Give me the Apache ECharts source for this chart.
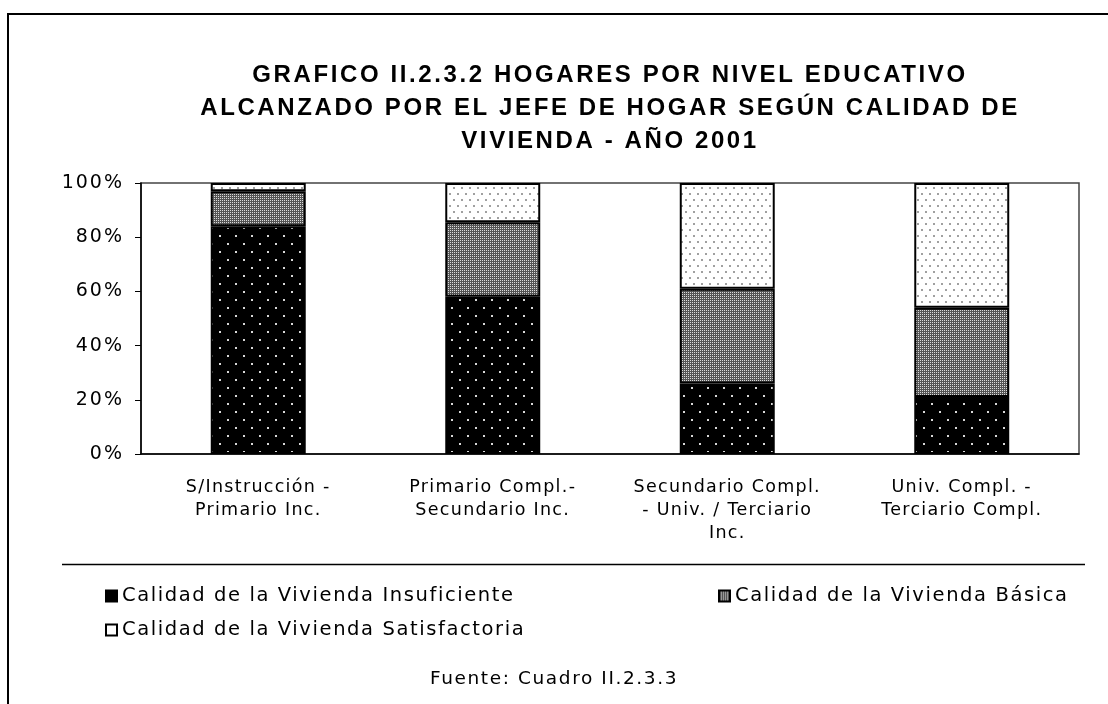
<!DOCTYPE html>
<html><head><meta charset="utf-8">
<script src="https://cdn.jsdelivr.net/npm/echarts@6/dist/echarts.min.js"></script>
<style>html,body{margin:0;padding:0;background:#fff}#c{width:1108px;height:704px}</style>
</head><body><div id="c"></div>
<script>
const categories = ['S/Instrucción -\nPrimario Inc.', 'Primario Compl.-\nSecundario Inc.', 'Secundario Compl.\n- Univ. / Terciario\nInc.', 'Univ. Compl. -\nTerciario Compl.'];
const seriesNames = ['Calidad de la Vivienda Insuficiente', 'Calidad de la Vivienda Básica', 'Calidad de la Vivienda Satisfactoria'];
const insuficiente = [84, 58, 26, 21];
const basica = [13, 27.5, 35, 33];
const satisfactoria = [3, 14.5, 39, 46];
const yTicks = [0, 20, 40, 60, 80, 100];

// wide letter spacing of the original rendering (keyed by font size)
const SPACING = {'24': 2.6, '19': 2, '17.5': 1.3, '19.5': 1.6, '18.5': 1.6};
(function () {
  const P = CanvasRenderingContext2D.prototype;
  const orig = P.fillText;
  P.fillText = function (t, x, y, mw) {
    const m = /(\d+(?:\.\d+)?)px/.exec(this.font || '');
    const has = 'letterSpacing' in this;
    const prev = has ? this.letterSpacing : null;
    if (has && m && SPACING[m[1]] != null) this.letterSpacing = SPACING[m[1]] + 'px';
    const r = mw === undefined ? orig.call(this, t, x, y) : orig.call(this, t, x, y, mw);
    if (has) this.letterSpacing = prev;
    return r;
  };
})();

function pattern(w, h, bg, dots) {
  const c = document.createElement('canvas');
  c.width = w; c.height = h;
  const g = c.getContext('2d');
  g.fillStyle = bg; g.fillRect(0, 0, w, h);
  dots.forEach(d => { g.fillStyle = d[4]; g.fillRect(d[0], d[1], d[2], d[3]); });
  return c;
}
const pBlack = pattern(16, 16, '#000', [[3, 3, 2, 2, '#d8d8d8'], [11, 11, 2, 2, '#d8d8d8']]);
const pGray = pattern(2, 2, '#555', [[0, 0, 1, 1, '#dcdcdc']]);
const pWhite = pattern(8, 12, '#fff', [[1, 1, 2, 2, '#a0a0a0'], [5, 7, 2, 2, '#a0a0a0']]);
const fills = [pBlack, pGray, pWhite];
const values = [insuficiente, basica, satisfactoria];

const chart = echarts.init(document.getElementById('c'), null, {renderer: 'canvas'});
const font = 'DejaVu Sans';
chart.setOption({
  animation: false,
  backgroundColor: '#fff',
  title: [{
    text: 'GRAFICO II.2.3.2 HOGARES POR NIVEL EDUCATIVO\nALCANZADO POR EL JEFE DE HOGAR SEGÚN CALIDAD DE\nVIVIENDA - AÑO 2001',
    left: 605, top: 54, textAlign: 'center',
    textStyle: {fontFamily: 'Liberation Sans', fontWeight: 'bold', fontSize: 24, lineHeight: 33, color: '#000'}
  }, {
    text: 'Fuente: Cuadro II.2.3.3',
    left: 549, top: 665, textAlign: 'center',
    textStyle: {fontFamily: font, fontWeight: 'normal', fontSize: 18.5, color: '#000'}
  }],
  grid: {left: 141, right: 29, top: 183, bottom: 250, show: true, borderColor: '#444', borderWidth: 1.5, backgroundColor: '#fff'},
  xAxis: {
    type: 'category', data: categories,
    axisLine: {lineStyle: {color: '#000', width: 1.5}},
    axisTick: {show: false},
    axisLabel: {fontFamily: font, fontSize: 17.5, lineHeight: 23, color: '#000', margin: 22, interval: 0, align: 'center'}
  },
  yAxis: {
    type: 'value', min: 0, max: 100, interval: 20,
    axisLine: {show: true, lineStyle: {color: '#000', width: 1.5}},
    axisTick: {show: true, length: 6, lineStyle: {color: '#000'}},
    splitLine: {show: false},
    axisLabel: {fontFamily: font, fontSize: 19, color: '#000', margin: 17,
      formatter: v => yTicks.indexOf(v) >= 0 ? v + '%' : ''}
  },
  legend: [
    {data: [{name: seriesNames[0], itemStyle: {color: '#000'}}], left: 100, top: 581},
    {data: [{name: seriesNames[1], itemStyle: {color: {image: pGray, repeat: 'repeat'}}}], left: 713, top: 581},
    {data: [{name: seriesNames[2], itemStyle: {color: '#fff'}}], left: 100, top: 615}
  ].map(l => Object.assign(l, {
    orient: 'horizontal', icon: 'rect', itemWidth: 11, itemHeight: 11, itemGap: 6,
    textStyle: {fontFamily: font, fontSize: 19.5, color: '#000', padding: [0, 0, 0, 0]}
  })),
  graphic: [
    {type: 'rect', shape: {x: 8, y: 14, width: 1200, height: 800}, style: {fill: 'none', stroke: '#000', lineWidth: 2}, silent: true, z: 100},
    {type: 'line', shape: {x1: 62, y1: 564.5, x2: 1085, y2: 564.5}, style: {stroke: '#000', lineWidth: 1.5}, silent: true}
  ],
  series: values.map((vals, i) => ({
    name: seriesNames[i], type: 'bar', stack: 'total', data: vals,
    barWidth: '40.5%',
    itemStyle: {color: {image: fills[i], repeat: 'repeat'}, borderColor: '#000', borderWidth: 2},
    emphasis: {disabled: true}
  }))
});
</script></body></html>
